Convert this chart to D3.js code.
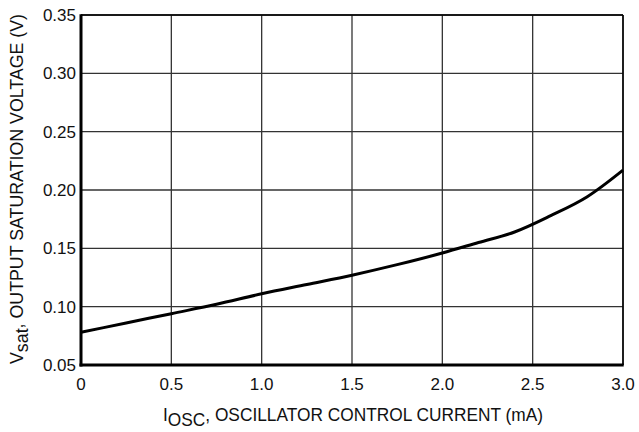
<!DOCTYPE html>
<html lang="en">
<head>
<meta charset="UTF-8">
<title>Vsat vs IOSC</title>
<style>
  body { margin: 0; background: #fff; }
  text { font-family: "Liberation Sans", Arial, sans-serif; fill: #111; }
</style>
</head>
<body>
<script src="https://cdn.jsdelivr.net/npm/d3@7"></script>
<script>
// data
const iosc = [0, 0.25, 0.5, 0.75, 1.0, 1.25, 1.5, 1.75, 2.0, 2.2, 2.4, 2.6, 2.8, 3.0];
const vsat = [0.078, 0.086, 0.094, 0.102, 0.111, 0.119, 0.127, 0.136, 0.146, 0.155, 0.164, 0.178, 0.194, 0.217];
const xTicks = [0, 0.5, 1.0, 1.5, 2.0, 2.5, 3.0];
const yTicks = [0.05, 0.10, 0.15, 0.20, 0.25, 0.30, 0.35];

const width = 639, height = 432;
const margin = {top: 15, right: 16, bottom: 67, left: 81};

const svg = d3.select("body").append("svg")
    .attr("width", width)
    .attr("height", height);

const x = d3.scaleLinear().domain([0, 3]).range([margin.left, width - margin.right]);
const y = d3.scaleLinear().domain([0.05, 0.35]).range([height - margin.bottom, margin.top]);

// grid
svg.append("g")
    .selectAll("line")
    .data(xTicks)
    .join("line")
    .attr("x1", d => x(d)).attr("x2", d => x(d))
    .attr("y1", y(0.35)).attr("y2", y(0.05))
    .attr("stroke", "#333").attr("stroke-width", 1.3);

svg.append("g")
    .selectAll("line")
    .data(yTicks)
    .join("line")
    .attr("x1", x(0)).attr("x2", x(3))
    .attr("y1", d => y(d)).attr("y2", d => y(d))
    .attr("stroke", "#333").attr("stroke-width", 1.3);

// frame: heavy left and bottom
svg.append("line")
    .attr("x1", x(0)).attr("x2", x(0))
    .attr("y1", y(0.35) - 0.7).attr("y2", y(0.05) + 1.5)
    .attr("stroke", "#000").attr("stroke-width", 3);
svg.append("line")
    .attr("x1", x(0) - 1.5).attr("x2", x(3) + 0.7)
    .attr("y1", y(0.05)).attr("y2", y(0.05))
    .attr("stroke", "#000").attr("stroke-width", 3);
svg.append("line")
    .attr("x1", x(0)).attr("x2", x(3))
    .attr("y1", y(0.35)).attr("y2", y(0.35))
    .attr("stroke", "#000").attr("stroke-width", 1.5);
svg.append("line")
    .attr("x1", x(3)).attr("x2", x(3))
    .attr("y1", y(0.35)).attr("y2", y(0.05))
    .attr("stroke", "#000").attr("stroke-width", 1.5);

// tick labels
svg.append("g")
    .selectAll("text")
    .data(xTicks)
    .join("text")
    .attr("x", d => x(d))
    .attr("y", y(0.05) + 25)
    .attr("text-anchor", "middle")
    .attr("font-size", 17)
    .text(d => d === 0 ? "0" : d.toFixed(1));

svg.append("g")
    .selectAll("text")
    .data(yTicks)
    .join("text")
    .attr("x", x(0) - 5)
    .attr("y", d => y(d) + 6)
    .attr("text-anchor", "end")
    .attr("font-size", 17)
    .text(d => d.toFixed(2));

// curve
const line = d3.line()
    .x((d, i) => x(iosc[i]))
    .y(d => y(d))
    .curve(d3.curveMonotoneX);

svg.append("path")
    .datum(vsat)
    .attr("d", line)
    .attr("fill", "none")
    .attr("stroke", "#000")
    .attr("stroke-width", 3);

// axis titles (narrow face in the original, so squeeze to its length)
const xt = svg.append("text")
    .attr("x", 353)
    .attr("y", 421)
    .attr("text-anchor", "middle")
    .attr("font-size", 19)
    .attr("textLength", 380)
    .attr("lengthAdjust", "spacingAndGlyphs");
xt.append("tspan").text("I");
xt.append("tspan").attr("dy", 5).text("OSC");
xt.append("tspan").attr("dy", -5).text(", OSCILLATOR CONTROL CURRENT (mA)");

const yt = svg.append("text")
    .attr("transform", "translate(23,189) rotate(-90)")
    .attr("text-anchor", "middle")
    .attr("font-size", 18.5)
    .attr("textLength", 350)
    .attr("lengthAdjust", "spacingAndGlyphs");
yt.append("tspan").text("V");
yt.append("tspan").attr("dy", 5).text("sat");
yt.append("tspan").attr("dy", -5).text(", OUTPUT SATURATION VOLTAGE (V)");
</script>
</body>
</html>
